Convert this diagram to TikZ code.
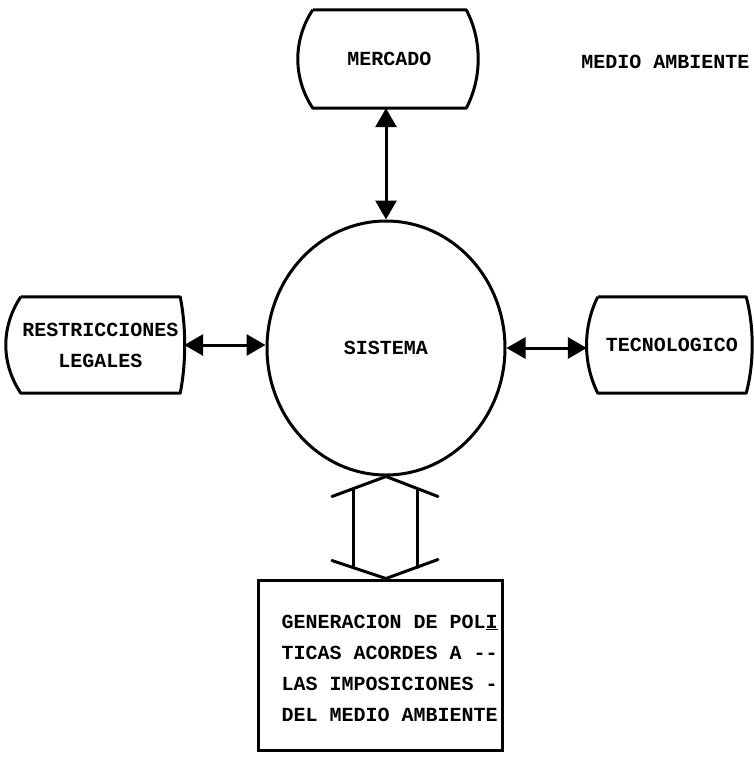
\documentclass[tikz,border=0pt]{standalone}
\usepackage{fontspec}
\setmainfont{Liberation Mono}
\usetikzlibrary{arrows.meta,shapes.geometric,calc}
\newcommand\dispoutline[3]{%
  \draw[outl] (#1.north west) -- (#1.north east)
    .. controls +(#3,30) and +(#3,-30) .. (#1.south east)
    -- (#1.south west)
    .. controls +(-#2,-30) and +(-#2,30) .. (#1.north west);}
\tikzset{
  txt/.style={font=\fontsize{20}{31}\selectfont\bfseries, inner sep=0pt, align=center},
  dispbox/.style={txt, draw=none, minimum height=96pt},
  outl/.style={line width=3pt, line join=round},
  dbl/.style={line width=3pt, {Triangle[width=21pt,length=19pt]}-{Triangle[width=21pt,length=19pt]}},
  hollow/.style={line width=3pt, line cap=round}
}
\begin{document}
\begin{tikzpicture}[x=1pt,y=-1pt]
\useasboundingbox[fill=white] (0,0) rectangle (754,758);
% nodes
\node[dispbox, minimum width=153pt, minimum height=98pt] (mer) at (389.5,59) {MERCADO};
\node[dispbox, minimum width=159pt] (res) at (100.5,345) {RESTRICCIONES\\LEGALES};
\node[dispbox, minimum width=148pt] (tec) at (672,345) {TECNOLOGICO};
\node[txt, draw, ellipse, line width=3pt, minimum width=238pt, minimum height=254pt] (sys) at (386,348) {SISTEMA};
\node[txt] (env) at (665.5,62) {MEDIO AMBIENTE};
\node[draw, line width=3pt, minimum width=244pt, minimum height=170pt, inner sep=0pt] (gen) at (380,665) {};
\node[txt, align=left, anchor=west] (gentxt) at ([xshift=25pt,yshift=-3pt]gen.west)
  {GENERACION DE POL\underline{I}\\TICAS ACORDES A -{}-\\LAS IMPOSICIONES -\\DEL MEDIO AMBIENTE};
% outlines
\dispoutline{mer}{20}{16}
\dispoutline{res}{20}{6}
\dispoutline{tec}{15}{8}
% connectors
\draw[dbl] (sys.north |- mer.south) -- (sys.north);
\draw[dbl] ([xshift=4pt]res.east) -- (res.east -| sys.west);
\draw[dbl] (sys.east) -- ([xshift=-11pt]tec.west |- sys.east);
% hollow double arrow
\coordinate (ta) at (sys.south);
\coordinate (ba) at (gen.north -| sys.south);
\draw[hollow] ([shift={(-54,20)}]ta) -- (ta) -- ([shift={(52,20)}]ta);
\draw[hollow] ([shift={(-54,-18)}]ba) -- (ba) -- ([shift={(52,-19)}]ba);
\draw[hollow] ([shift={(-33,12)}]ta) -- ([shift={(-33,-11)}]ba);
\draw[hollow] ([shift={(31,12)}]ta) -- ([shift={(31,-11)}]ba);
\end{tikzpicture}
\end{document}
